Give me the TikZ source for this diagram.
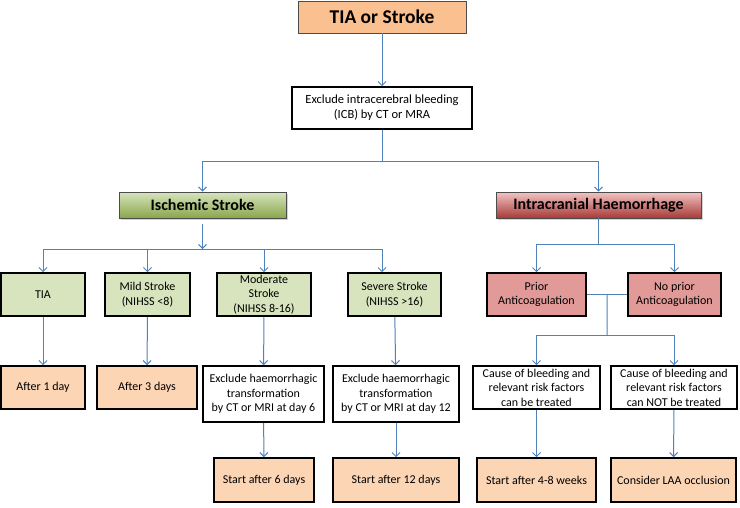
\documentclass[tikz,border=0pt]{standalone}
\usepackage{fontspec}
\setmainfont{Carlito}
\usepackage{tikz}
\usetikzlibrary{arrows.meta,calc,shadows}
\definecolor{arrowblue}{HTML}{4F81BD}
\definecolor{smallgreen}{HTML}{D7E4BD}
\definecolor{darkgreen}{HTML}{8AA64C}
\definecolor{pinkfill}{HTML}{E29A98}
\definecolor{lightred}{HTML}{F2C4C3}
\definecolor{darkred}{HTML}{A83A37}
\definecolor{orangefill}{HTML}{FCD5B5}
\definecolor{topfill}{HTML}{FAC090}
\tikzset{
  base/.style={draw=black, line width=1.6pt, align=center, inner sep=0pt, font=\fontsize{12}{14.5}\selectfont},
  whitebox/.style={base, fill=white},
  greenbox/.style={base, fill=smallgreen},
  pinkbox/.style={base, fill=pinkfill},
  orangebox/.style={base, fill=orangefill},
  headbox/.style={draw=black!70, line width=0.7pt, inner sep=0pt, font=\fontsize{16}{18}\selectfont\bfseries,
    drop shadow={shadow xshift=1.5pt, shadow yshift=-1.5pt, opacity=0.35}},
  arr/.style={draw=arrowblue, line width=1pt, -{Straight Barb[length=4pt,width=8pt]}},
  lin/.style={draw=arrowblue, line width=1pt}
}
\begin{document}
\begin{tikzpicture}[x=1pt,y=-1pt]
\useasboundingbox (0,0) rectangle (740,507);
\node[draw=black!70, line width=0.8pt, fill=topfill, minimum width=168pt, minimum height=32pt, inner sep=0pt,
  font=\fontsize{19.5}{21}\selectfont\bfseries] (top) at (382,17) {TIA or Stroke};
\node[whitebox, minimum width=180pt, minimum height=42pt, font=\fontsize{12.5}{15}\selectfont] (excl) at (382,108)
  {Exclude intracerebral bleeding\\(ICB) by CT or MRA};
\node[headbox, top color=smallgreen, bottom color=darkgreen, minimum width=167pt, minimum height=26pt] (isch) at (202.5,205) {Ischemic Stroke};
\node[headbox, top color=lightred, bottom color=darkred, minimum width=205pt, minimum height=26pt] (haem) at (598.5,205) {Intracranial Haemorrhage};
\node[greenbox, minimum width=84pt, minimum height=43pt] (tia) at (43,294.5) {TIA};
\node[greenbox, minimum width=85pt, minimum height=43pt] (mild) at (147.5,294.5) {Mild Stroke\\(NIHSS <8)};
\node[greenbox, minimum width=94pt, minimum height=43pt] (mod) at (264,294.5) {Moderate\\Stroke\\(NIHSS 8-16)};
\node[greenbox, minimum width=93pt, minimum height=43pt] (sev) at (394.5,294.5) {Severe Stroke\\(NIHSS >16)};
\node[pinkbox, minimum width=99pt, minimum height=43pt] (prior) at (536.5,294.5) {Prior\\Anticoagulation};
\node[pinkbox, minimum width=93pt, minimum height=43pt] (noprior) at (674.5,294.5) {No prior\\Anticoagulation};
\node[orangebox, minimum width=84pt, minimum height=43pt] (after1) at (43,387.5) {After 1 day};
\node[orangebox, minimum width=100pt, minimum height=43pt] (after3) at (147,387.5) {After 3 days};
\node[whitebox, minimum width=121pt, minimum height=56pt] (ex6) at (263.5,394) {Exclude haemorrhagic\\transformation\\by CT or MRI at day 6};
\node[whitebox, minimum width=126pt, minimum height=56pt] (ex12) at (396,394) {Exclude haemorrhagic\\transformation\\by CT or MRI at day 12};
\node[whitebox, minimum width=127pt, minimum height=43pt] (treat) at (536.5,387.5) {Cause of bleeding and\\relevant risk factors\\can be treated};
\node[whitebox, minimum width=126pt, minimum height=43pt] (nottreat) at (674,387.5) {Cause of bleeding and\\relevant risk factors\\can NOT be treated};
\node[orangebox, minimum width=100pt, minimum height=44pt] (start6) at (264,480) {Start after 6 days};
\node[orangebox, minimum width=126pt, minimum height=44pt] (start12) at (396,480) {Start after 12 days};
\node[orangebox, minimum width=119pt, minimum height=44pt] (start48) at (536.5,480) {Start after 4-8 weeks};
\node[orangebox, minimum width=125pt, minimum height=44pt] (laa) at (673.5,480) {Consider LAA occlusion};

\coordinate (split1) at (382,161);
\coordinate (split2) at (202.5,249);
\coordinate (split3) at (598.5,244);
\coordinate (pmid) at ($(prior.east)!0.5!(noprior.west)$);
\coordinate (split4) at (607,335);

\draw[arr] (top) -- (excl);
\draw[lin] (excl.south) -- (split1);
\draw[arr] (split1) -| (isch.north);
\draw[arr] (split1) -| (haem.north);
\draw[arr] ([yshift=-6pt]isch.south) -- (split2);
\draw[arr] (split2) -| (tia.north);
\draw[arr] (split2) -| (mild.north);
\draw[arr] (split2) -| (mod.north);
\draw[arr] (split2) -| ([xshift=-12.5pt]sev.north);
\draw[lin] (haem.south) -- (split3);
\draw[arr] (split3) -| (prior.north);
\draw[arr] (split3) -| (noprior.north);
\draw[lin] (prior.east) -- (noprior.west);
\draw[lin] (pmid) -- (split4);
\draw[arr] (split4) -| (treat.north);
\draw[arr] (split4) -| (nottreat.north);
\draw[arr] (tia) -- (after1);
\draw[arr] (mild) -- (after3);
\draw[arr] (mod) -- (ex6);
\draw[arr] (ex6) -- (start6);
\draw[arr] (sev) -- (ex12);
\draw[arr] (ex12) -- (start12);
\draw[arr] (treat) -- (start48);
\draw[arr] (nottreat) -- (laa);
\end{tikzpicture}
\end{document}
